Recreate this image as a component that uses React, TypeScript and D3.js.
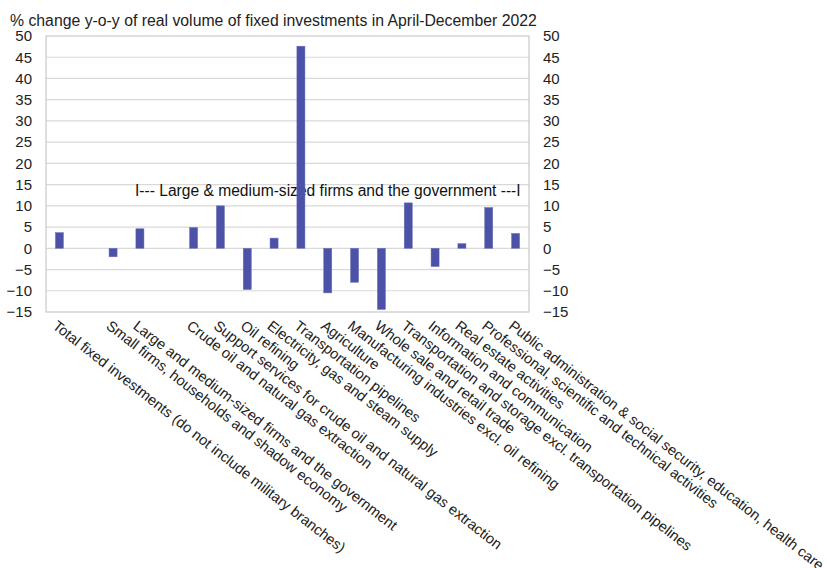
import React, { useEffect, useRef } from 'react';
import * as d3 from 'd3';

// slots with empty labels are spacer columns in the original chart
const categories: string[] = [
  'Total fixed investments (do not include military branches)',
  '',
  'Small firms, households and shadow economy',
  'Large and medium-sized firms and the government',
  '',
  'Crude oil and natural gas extraction',
  'Support services for crude oil and natural gas extraction',
  'Oil refining',
  'Electricity, gas and steam supply',
  'Transportation pipelines',
  'Agriculture',
  'Manufacturing industries excl. oil refining',
  'Whole sale and retail trade',
  'Transportation and storage excl. transportation pipelines',
  'Information and communication',
  'Real estate activities',
  'Professional, scientific and technical activities',
  'Public administration & social security, education, health care',
];

const values: (number | null)[] = [
  3.7, null, -2.0, 4.6, null, 4.9, 10.0, -9.7, 2.4, 47.6, -10.5, -8.0, -14.4, 10.7, -4.3, 1.1, 9.6, 3.5,
];

const yTicks: number[] = [-15, -10, -5, 0, 5, 10, 15, 20, 25, 30, 35, 40, 45, 50];

const title = '% change y-o-y of real volume of fixed investments in April-December 2022';
const note = 'I--- Large & medium-sized firms and the government ---I';

const App: React.FC = () => {
  const ref = useRef<SVGSVGElement | null>(null);

  useEffect(() => {
    if (!ref.current) return;
    const margin = { top: 36, left: 46, right: 298, bottom: 256 };
    const W = 827;
    const H = 568;
    const width = W - margin.left - margin.right;
    const height = H - margin.top - margin.bottom;
    const font = '"Liberation Sans", Arial, sans-serif';

    const svg = d3.select(ref.current);
    svg.selectAll('*').remove();
    svg.attr('width', W).attr('height', H).style('font-family', font);

    svg
      .append('text')
      .attr('x', 10)
      .attr('y', 26)
      .attr('font-size', 15.8)
      .attr('fill', '#222')
      .text(title);

    const g = svg.append('g').attr('transform', `translate(${margin.left},${margin.top})`);

    const keys = categories.map((_, i) => `c${i}`);
    const x = d3.scaleBand<string>().domain(keys).range([0, width]).paddingInner(0.7).paddingOuter(0.35);
    const y = d3.scaleLinear().domain([-15, 50]).range([height, 0]);

    // gridlines
    g.selectAll('.grid')
      .data(yTicks.filter((t) => t !== 50 && t !== -15))
      .enter()
      .append('line')
      .attr('x1', 0)
      .attr('x2', width)
      .attr('y1', (d) => y(d))
      .attr('y2', (d) => y(d))
      .attr('stroke', '#d9d9d9')
      .attr('stroke-width', 1.2);

    // frame
    g.append('rect')
      .attr('x', 0)
      .attr('y', 0)
      .attr('width', width)
      .attr('height', height)
      .attr('fill', 'none')
      .attr('stroke', '#c8c8c8')
      .attr('stroke-width', 1.2);

    // left + right tick labels
    const left = d3.axisLeft(y).tickValues(yTicks).tickSize(0).tickPadding(14);
    const right = d3.axisRight(y).tickValues(yTicks).tickSize(0).tickPadding(14);
    [g.append('g').call(left), g.append('g').attr('transform', `translate(${width},0)`).call(right)].forEach((a) => {
      a.select('.domain').remove();
      a.selectAll('text').attr('font-size', 15).attr('font-family', font).attr('fill', '#222');
    });

    g.append('text')
      .attr('x', 135 - margin.left)
      .attr('y', 196 - margin.top)
      .attr('font-size', 15.6)
      .attr('fill', '#111')
      .text(note);

    // bars
    const data = keys.map((k, i) => ({ k, v: values[i] })).filter((d) => d.v !== null) as { k: string; v: number }[];
    g.selectAll('.bar')
      .data(data)
      .enter()
      .append('rect')
      .attr('x', (d) => x(d.k) || 0)
      .attr('y', (d) => y(Math.max(0, d.v)))
      .attr('width', x.bandwidth())
      .attr('height', (d) => Math.abs(y(d.v) - y(0)))
      .attr('fill', '#4b52a8')
      .attr('stroke', '#6a70b8')
      .attr('stroke-width', 0.5);

    // category labels
    g.selectAll('.lab')
      .data(keys)
      .enter()
      .append('text')
      .attr('transform', (k) => `translate(${(x(k) || 0) + x.bandwidth() / 2 - 1},${height + 7}) rotate(38)`)
      .attr('dy', '0.75em')
      .attr('font-size', 14.6)
      .attr('fill', '#222')
      .text((_, i) => categories[i]);
  }, []);

  return (
    <div style={{ position: 'absolute', left: 0, top: 0 }}>
      <svg ref={ref}></svg>
    </div>
  );
};

export default App;
